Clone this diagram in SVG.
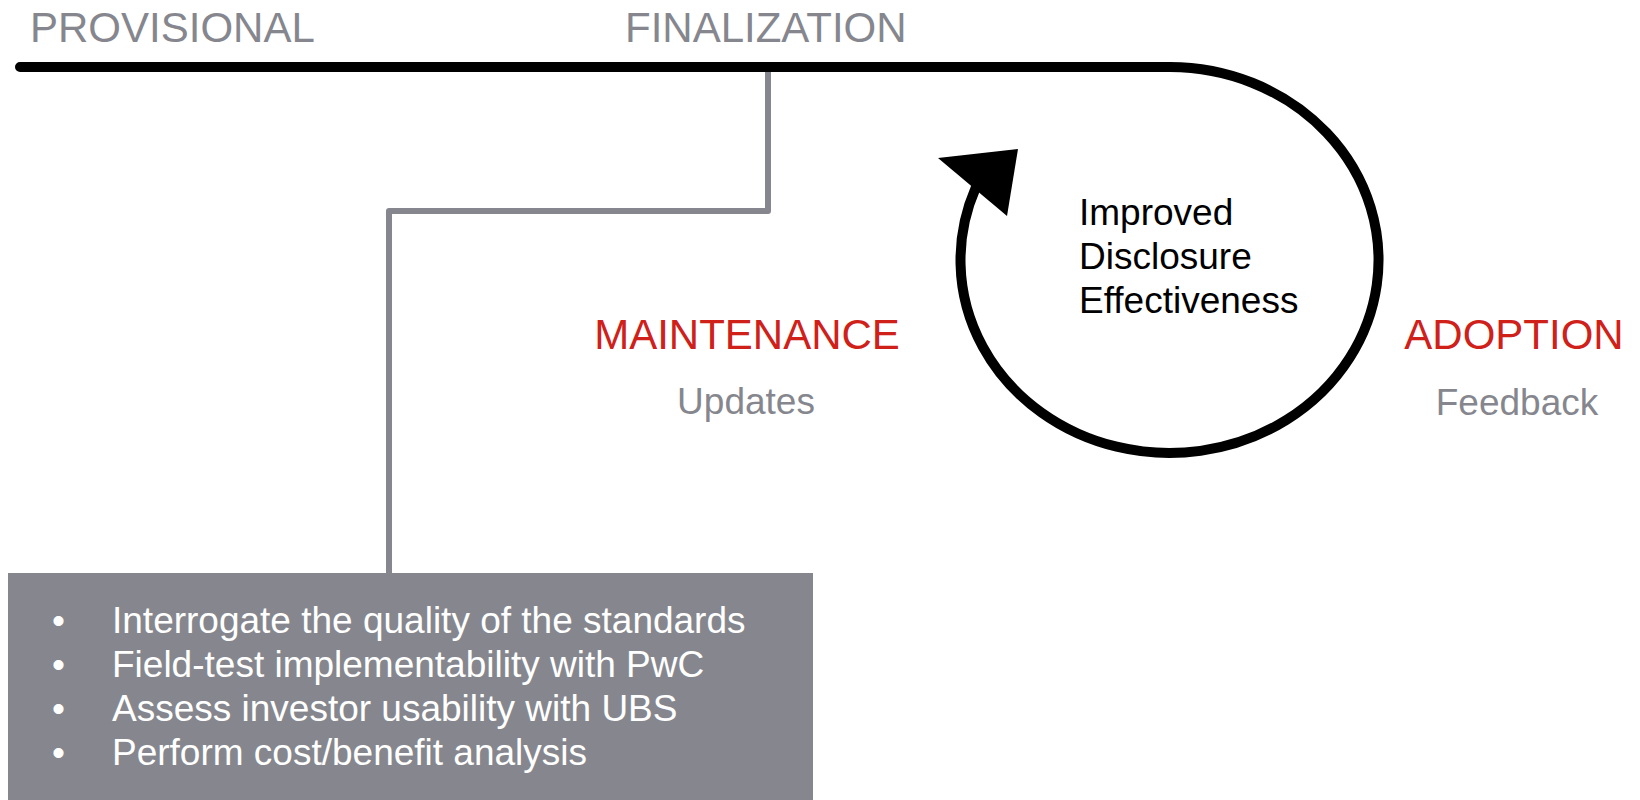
<svg xmlns="http://www.w3.org/2000/svg" width="1640" height="800" viewBox="0 0 1640 800">
  <style>
    text { font-family: "Liberation Sans", Arial, sans-serif; }
    .phase { font-size: 42px; fill: #86878e; }
    .stage { font-size: 42px; fill: #d0201a; text-anchor: middle; }
    .sub { font-size: 37px; fill: #86878e; text-anchor: middle; }
    .goal { font-size: 37px; fill: #000000; }
    .item { font-size: 37px; fill: #ffffff; }
    .track { fill: none; stroke: #000000; stroke-width: 10; stroke-linecap: round; }
    .link { fill: none; stroke: #86878e; stroke-width: 6; stroke-linejoin: round; }
  </style>

  <rect width="1640" height="800" fill="#ffffff"/>

  <!-- connectors: main timeline with feedback loop, and the branch down to the activity box -->
  <g id="connectors">
    <path class="link" d="M 768 72 L 768 211 L 389 211 L 389 574"/>
    <path class="track" d="M 20 67 L 1170 67 A 209 193 0 1 1 975.6 188"/>
    <polygon points="938,158 1018,149 1007,216" fill="#000000"/>
  </g>

  <g id="provisional">
    <text class="phase" x="30" y="42">PROVISIONAL</text>
  </g>

  <g id="finalization">
    <text class="phase" x="625" y="42">FINALIZATION</text>
  </g>

  <g id="maintenance">
    <text class="stage" x="747" y="349">MAINTENANCE</text>
    <text class="sub" x="746" y="414">Updates</text>
  </g>

  <g id="adoption">
    <text class="stage" x="1514" y="349">ADOPTION</text>
    <text class="sub" x="1517" y="415">Feedback</text>
  </g>

  <g id="goal">
    <text class="goal" x="1079" y="225">Improved</text>
    <text class="goal" x="1079" y="269">Disclosure</text>
    <text class="goal" x="1079" y="313">Effectiveness</text>
  </g>

  <g id="activities">
    <rect x="8" y="573" width="805" height="240" fill="#86878e"/>
    <text class="item" x="52" y="633">•</text>
    <text class="item" x="112" y="633">Interrogate the quality of the standards</text>
    <text class="item" x="52" y="677">•</text>
    <text class="item" x="112" y="677">Field-test implementability with PwC</text>
    <text class="item" x="52" y="721">•</text>
    <text class="item" x="112" y="721">Assess investor usability with UBS</text>
    <text class="item" x="52" y="765">•</text>
    <text class="item" x="112" y="765">Perform cost/benefit analysis</text>
  </g>
</svg>
